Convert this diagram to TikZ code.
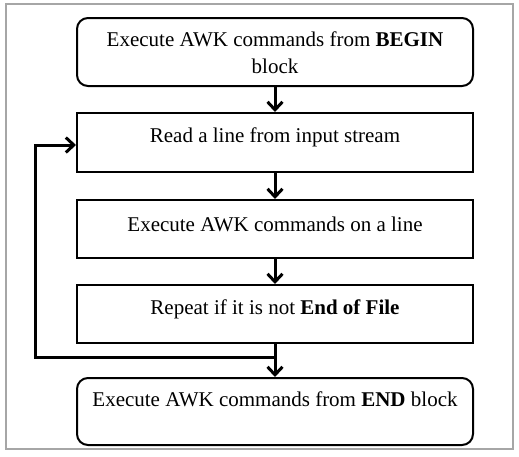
\documentclass[tikz,border=0pt]{standalone}
\usepackage{fontspec}
\setmainfont{Liberation Serif}
\usetikzlibrary{arrows.meta}
\begin{document}
\begin{tikzpicture}[x=1pt,y=-1pt,
  box/.style={draw=black,line width=2pt,minimum width=396pt,inner sep=0pt},
  rbox/.style={box,rounded corners=11pt},
  txt/.style={font=\fontsize{21}{27}\selectfont,align=center,inner sep=0pt},
  flow/.style={line width=3pt,-{Straight Barb[length=8pt,width=15pt,line width=3pt]}},
  loopline/.style={line width=3pt}]
\useasboundingbox (0,0) rectangle (519,456);
\draw[draw=gray!70,line width=1.4pt] (6,4) rectangle (513,449);
\node[rbox,minimum height=68pt] (b1) at (275,52) {};
\node[box,minimum height=59pt] (b2) at (275,142.5) {};
\node[box,minimum height=58pt] (b3) at (275,229) {};
\node[box,minimum height=58pt] (b4) at (275,314) {};
\node[rbox,minimum height=67pt] (b5) at (275,411.5) {};
\node[txt] (t1) at (275,53) {Execute AWK commands from \textbf{BEGIN}\\block};
\node[txt] (t2) at (275,137) {Read a line from input stream};
\node[txt] (t3) at (275,224) {Execute AWK commands on a line};
\node[txt] (t4) at (275,309) {Repeat if it is not \textbf{End of File}};
\node[txt] (t5) at (275,399) {Execute AWK commands from \textbf{END} block};
\coordinate (j) at (275,357);
\coordinate (c1) at (35,357);
\coordinate (c2) at (35,145);
\draw[flow] (b1.south) -- (b2.north);
\draw[flow] (b2.south) -- (b3.north);
\draw[flow] (b3.south) -- (b4.north);
\draw[flow] (b4.south) -- (b5.north);
\draw[flow,line join=miter] (j) -- (c1) -- (c2) -- (c2 -| b2.west);
\end{tikzpicture}
\end{document}
